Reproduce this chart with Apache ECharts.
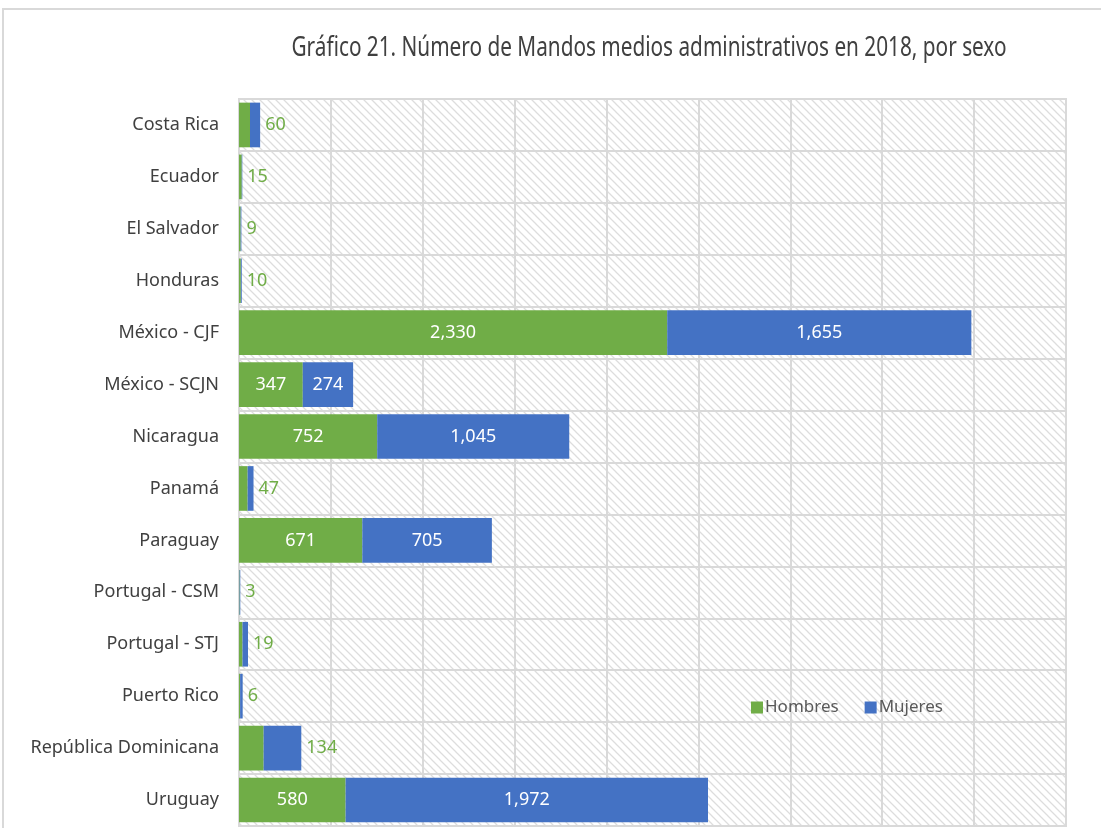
<!DOCTYPE html>
<html>
<head>
<meta charset="utf-8">
<script src="https://cdn.jsdelivr.net/npm/echarts@6/dist/echarts.min.js"></script>
<style>
  html, body { margin: 0; padding: 0; background: #fff; }
  #chart { width: 1101px; height: 828px; }
</style>
</head>
<body>
<div id="chart"></div>
<script>
const countries = ['Costa Rica', 'Ecuador', 'El Salvador', 'Honduras', 'México - CJF', 'México - SCJN',
  'Nicaragua', 'Panamá', 'Paraguay', 'Portugal - CSM', 'Portugal - STJ', 'Puerto Rico',
  'República Dominicana', 'Uruguay'];
const hombres = [60, 15, 9, 10, 2330, 347, 752, 47, 671, 3, 19, 6, 134, 580];
const mujeres = [55, 3, 4, 5, 1655, 274, 1045, 32, 705, 4, 30, 14, 205, 1972];

const FONT = '"Noto Sans", "Liberation Sans", sans-serif';
const GREEN = '#70AD47';
const BLUE = '#4472C4';
const TITLE = 'Gráfico 21. Número de Mandos medios administrativos en 2018, por sexo';
const xMax = 4500;
const gridLeft = 239;
const gridRight = 35;
const pxPerUnit = (1101 - gridLeft - gridRight) / xMax;

// hatch background
const hatch = document.createElement('canvas');
hatch.width = 8;
hatch.height = 8;
const hctx = hatch.getContext('2d');
hctx.strokeStyle = '#dddddd';
hctx.lineWidth = 1.3;
hctx.beginPath();
hctx.moveTo(-1, -1); hctx.lineTo(9, 9);
hctx.moveTo(-1, 7); hctx.lineTo(1, 9);
hctx.moveTo(7, -1); hctx.lineTo(9, 1);
hctx.stroke();

// squeeze the title to look like the condensed original
const mctx = document.createElement('canvas').getContext('2d');
mctx.font = '27px "Noto Sans"';
const titleScale = 715 / mctx.measureText(TITLE).width;

const fmt = v => v.toLocaleString('en-US');

const hombresData = hombres.map((v, i) => {
  if (v >= 200) return v;
  return {
    value: v,
    label: {
      position: 'right',
      distance: 5,
      offset: [mujeres[i] * pxPerUnit, 0],
      color: GREEN
    }
  };
});
const mujeresData = mujeres.map((v, i) => {
  if (hombres[i] >= 200) return v;
  return { value: v, label: { show: false } };
});

const chart = echarts.init(document.getElementById('chart'));
chart.setOption({
  animation: false,
  backgroundColor: '#fff',
  graphic: [
    {
      type: 'rect',
      shape: { x: 3, y: 9, width: 1110, height: 830 },
      style: { fill: 'none', stroke: '#d9d9d9', lineWidth: 2 },
      silent: true
    },
    {
      type: 'text',
      x: 649,
      y: 48,
      scaleX: titleScale,
      style: {
        text: TITLE,
        font: '27px "Noto Sans"',
        fill: '#404040',
        align: 'center',
        verticalAlign: 'middle'
      },
      silent: true
    }
  ],
  legend: {
    data: ['Hombres', 'Mujeres'],
    left: 746,
    top: 694,
    icon: 'rect',
    itemWidth: 12,
    itemHeight: 12,
    itemGap: 26,
    textStyle: { fontFamily: FONT, fontSize: 17, color: '#595959', padding: [0, 0, 0, -3] }
  },
  grid: {
    left: gridLeft,
    right: gridRight,
    top: 99,
    bottom: 2,
    show: true,
    backgroundColor: { image: hatch, repeat: 'repeat' },
    borderColor: '#d9d9d9',
    borderWidth: 2
  },
  xAxis: {
    type: 'value',
    min: 0,
    max: xMax,
    interval: 500,
    axisLabel: { show: false },
    axisLine: { show: false },
    axisTick: { show: false },
    splitLine: { lineStyle: { color: '#d9d9d9', width: 2 } }
  },
  yAxis: {
    type: 'category',
    data: countries,
    inverse: true,
    axisLine: { show: false },
    axisTick: { show: false },
    axisLabel: { fontFamily: FONT, fontSize: 18, color: '#404040', margin: 20 },
    splitLine: { show: true, lineStyle: { color: '#d9d9d9', width: 2 } }
  },
  series: [
    {
      name: 'Hombres',
      type: 'bar',
      stack: 'total',
      barCategoryGap: '14%',
      itemStyle: { color: GREEN },
      label: { show: true, position: 'inside', color: '#fff', fontFamily: FONT, fontSize: 18, formatter: p => fmt(p.value) },
      data: hombresData
    },
    {
      name: 'Mujeres',
      type: 'bar',
      stack: 'total',
      barCategoryGap: '14%',
      itemStyle: { color: BLUE },
      label: { show: true, position: 'inside', color: '#fff', fontFamily: FONT, fontSize: 18, formatter: p => fmt(p.value) },
      data: mujeresData
    }
  ]
});
</script>
</body>
</html>
